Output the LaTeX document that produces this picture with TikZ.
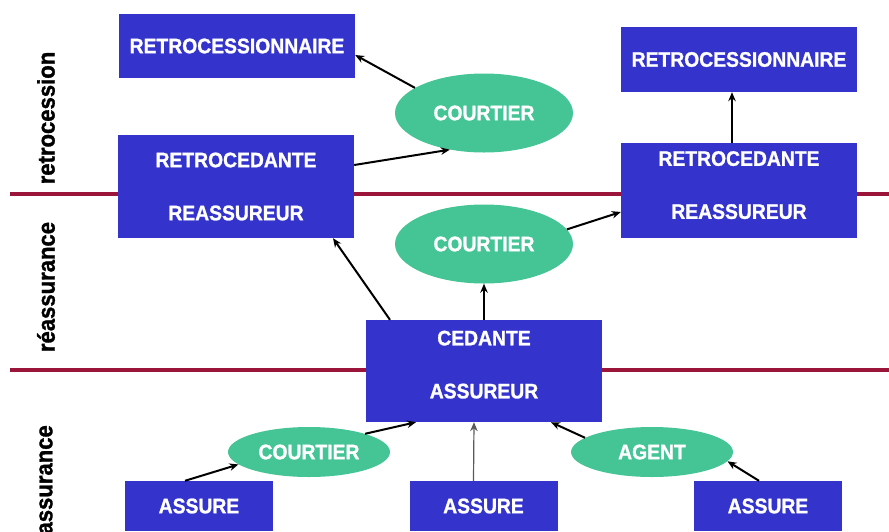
\documentclass[tikz,border=0pt]{standalone}
\usepackage{fontspec}
\setmainfont{Liberation Sans}[FakeStretch=0.92, BoldFeatures={FakeBold=1.2}]
\usetikzlibrary{shapes.geometric,arrows.meta}
\definecolor{boxblue}{RGB}{52,52,204}
\definecolor{ellgreen}{RGB}{69,197,150}
\definecolor{sepred}{RGB}{155,20,58}
\begin{document}
\begin{tikzpicture}[x=1pt,y=-1pt,
  bluebox/.style={fill=boxblue, text=white, font=\bfseries\fontsize{21}{53}\selectfont, inner sep=0pt, align=center},
  greenell/.style={ellipse, fill=ellgreen, text=white, font=\bfseries\fontsize{21}{25}\selectfont, inner sep=0pt},
  arr/.style={-{Stealth[length=9pt,width=7.5pt]}, line width=2pt, black},
  sepline/.style={line width=3.5pt, sepred},
  sidelabel/.style={rotate=90, font=\bfseries\fontsize{24}{28}\selectfont, inner sep=0pt}]
\useasboundingbox (0,0) rectangle (889,531);
\clip (0,0) rectangle (889,531);
% separators
\draw[sepline] (10,194) -- (889,194);
\draw[sepline] (10,370) -- (889,370);
% side labels
\node[sidelabel] (l1) at (46,118) {retrocession};
\node[sidelabel] (l2) at (46,287) {réassurance};
\node[sidelabel, anchor=east] (l3) at (46,425) {assurance};
% boxes
\node[bluebox, minimum width=236pt, minimum height=64pt] (r1) at (237,46) {RETROCESSIONNAIRE};
\node[bluebox, minimum width=236pt, minimum height=103pt] (rd1) at (236,186.5) {RETROCEDANTE\\REASSUREUR};
\node[bluebox, minimum width=236pt, minimum height=65pt] (r2) at (739,59.5) {RETROCESSIONNAIRE};
\node[bluebox, minimum width=236pt, minimum height=95pt] (rd2) at (739,190.5) {RETROCEDANTE\\REASSUREUR\\[-42pt]\mbox{}};
\node[bluebox, minimum width=236pt, minimum height=102pt] (ce) at (484,371) {CEDANTE\\ASSUREUR\\[-40pt]\mbox{}};
\node[bluebox, minimum width=148pt, minimum height=50pt] (a1) at (199,506) {ASSURE};
\node[bluebox, minimum width=148pt, minimum height=50pt] (a2) at (483.5,506) {ASSURE};
\node[bluebox, minimum width=148pt, minimum height=50pt] (a3) at (768,506) {ASSURE};
% ellipses
\node[greenell, minimum width=178pt, minimum height=79pt] (c1) at (484,113) {COURTIER};
\node[greenell, minimum width=178pt, minimum height=79pt] (c2) at (484,244) {COURTIER};
\node[greenell, minimum width=162pt, minimum height=50pt] (c3) at (309,452) {COURTIER};
\node[greenell, minimum width=162pt, minimum height=50pt] (ag) at (652,452) {AGENT};
% arrows
\draw[arr] (c1.160) -- ([yshift=-9pt]r1.east);
\draw[arr] ([yshift=21.5pt]rd1.east) -- (c1.227);
\draw[arr] ([xshift=-7pt]rd2.north) -- ([xshift=-7pt]r2.south);
\draw[arr] (c2.10) -- ([yshift=-21.5pt]rd2.west);
\draw[arr] ([xshift=-94pt]ce.north) -- ([xshift=97pt]rd1.south);
\draw[arr] (ce.north) -- (c2.south);
\draw[arr] (c3.18) -- ([xshift=-68pt]ce.south);
\draw[arr, line width=1.2pt, black!65] ([xshift=-10pt]a2.north) -- ([xshift=-10pt]ce.south);
\draw[arr] (ag.168) -- ([xshift=67pt]ce.south);
\draw[arr] ([xshift=-14pt]a1.north) -- (c3.190);
\draw[arr] ([xshift=-9pt]a3.north) -- (ag.353);
\end{tikzpicture}
\end{document}
